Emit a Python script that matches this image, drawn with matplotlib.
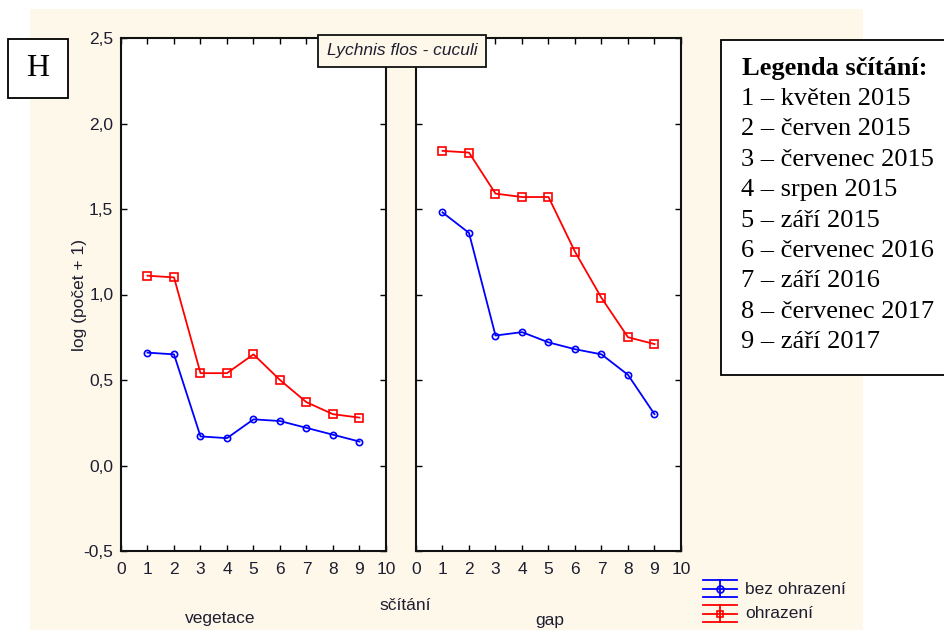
import matplotlib.pyplot as plt
import matplotlib.patches as patches
from matplotlib.lines import Line2D
from matplotlib.ticker import FuncFormatter

# sčítání 1..9, log(počet + 1)
scitani = [1, 2, 3, 4, 5, 6, 7, 8, 9]
veg_bez = [0.66, 0.65, 0.17, 0.16, 0.27, 0.26, 0.22, 0.18, 0.14]
veg_ohr = [1.11, 1.10, 0.54, 0.54, 0.65, 0.50, 0.37, 0.30, 0.28]
gap_bez = [1.48, 1.36, 0.76, 0.78, 0.72, 0.68, 0.65, 0.53, 0.30]
gap_ohr = [1.84, 1.83, 1.59, 1.57, 1.57, 1.25, 0.98, 0.75, 0.71]

panely = ["vegetace", "gap"]
legenda_polozky = ["květen 2015", "červen 2015", "červenec 2015", "srpen 2015",
                   "září 2015", "červenec 2016", "září 2016", "červenec 2017",
                   "září 2017"]

W, H = 945, 630
BG = "#fdf8ea"
TXT = "#1e1e30"
FS = 12.5
plt.rcParams['font.family'] = ['Liberation Sans', 'DejaVu Sans']

fig = plt.figure(figsize=(W / 100, H / 100), dpi=100, facecolor="white")


def fx(px):
    return px / W


def fy(py):
    return 1 - py / H


# beige page behind the plot
fig.add_artist(patches.Rectangle((fx(30), 0), fx(863 - 30), fy(9),
                                 transform=fig.transFigure, facecolor=BG,
                                 edgecolor="none", zorder=0))

comma = FuncFormatter(lambda v, p: f"{v:.1f}".replace(".", ","))

axes = []
for i, (bez, ohr) in enumerate([(veg_bez, veg_ohr), (gap_bez, gap_ohr)]):
    left = 121 if i == 0 else 416
    ax = fig.add_axes([fx(left), fy(551), fx(265), 513 / H])
    ax.set_facecolor("white")
    ax.plot(scitani, bez, color="#0000ff", lw=1.3, marker="o", ms=4.5,
            mfc="none", mew=1.2)
    ax.plot(scitani, ohr, color="#ff0000", lw=1.3, marker="s", ms=6,
            mfc="none", mew=1.2)
    ax.set_xlim(0, 10)
    ax.set_ylim(-0.5, 2.5)
    ax.set_xticks(range(0, 11))
    ax.set_yticks([-0.5, 0, 0.5, 1.0, 1.5, 2.0, 2.5])
    ax.yaxis.set_major_formatter(comma)
    ax.tick_params(direction="in", top=True, right=True, length=4,
                   width=1, labelsize=FS, labelcolor=TXT)
    ax.tick_params(axis="x", pad=8)
    ax.tick_params(axis="y", pad=5.5)
    if i == 1:
        ax.tick_params(labelleft=False)
    for s in ax.spines.values():
        s.set_linewidth(1.5)
        s.set_color("#111111")
    axes.append(ax)

fig.text(fx(220), fy(618), panely[0], ha="center", va="center",
         fontsize=FS, color=TXT)
fig.text(fx(550), fy(620), panely[1], ha="center", va="center",
         fontsize=FS, color=TXT)
fig.text(fx(405), fy(606), "sčítání", ha="center", va="center",
         fontsize=FS, color=TXT)
fig.text(fx(80), fy(295), "log (počet + 1)", ha="center", va="center",
         rotation=90, fontsize=FS, color=TXT)

# species title box
fig.text(fx(402), fy(51), "Lychnis flos - cuculi", ha="center", va="center",
         fontsize=FS, style="italic", color=TXT, zorder=10,
         bbox=dict(boxstyle="square,pad=0.5", facecolor=BG,
                   edgecolor="#111111", lw=1.3))

# legend with error-bar style handles
for (yc, col, mk, lab) in [(589, "#0000ff", "o", "bez ohrazení"),
                           (614, "#ff0000", "s", "ohrazení")]:
    for dy in (-9, 0, 8):
        fig.add_artist(Line2D([fx(703), fx(737)], [fy(yc + dy)] * 2,
                              transform=fig.transFigure, color=col, lw=1.3))
    fig.add_artist(Line2D([fx(720.5)] * 2, [fy(yc - 9), fy(yc + 8)],
                          transform=fig.transFigure, color=col, lw=1.3))
    fig.add_artist(Line2D([fx(720.5)], [fy(yc)], transform=fig.transFigure,
                          color=col, marker=mk, ms=5, mfc="none", mew=1.2))
    fig.text(fx(745), fy(yc), lab, ha="left", va="center", fontsize=FS,
             color=TXT)

# panel letter
fig.add_artist(patches.Rectangle((fx(8), fy(98)), fx(60), 59 / H,
                                 transform=fig.transFigure, facecolor="white",
                                 edgecolor="black", lw=1.3, zorder=5))
fig.text(fx(38), fy(69), "H", ha="center", va="center", fontsize=23,
         family="Liberation Serif", zorder=6)

# sčítání legend box
fig.add_artist(patches.Rectangle((fx(721), fy(375)), fx(240), 335 / H,
                                 transform=fig.transFigure, facecolor="white",
                                 edgecolor="black", lw=1.3, zorder=5))
fig.text(fx(742), fy(69), "Legenda sčítání:", ha="left", va="center",
         fontsize=19, family="Liberation Serif", weight="bold", zorder=6)
for k, pol in enumerate(legenda_polozky):
    fig.text(fx(741), fy(99 + k * 30.4), f"{k + 1} – {pol}", ha="left",
             va="center", fontsize=19, family="Liberation Serif", zorder=6)

fig.savefig("out.png", dpi=100, facecolor="white")
